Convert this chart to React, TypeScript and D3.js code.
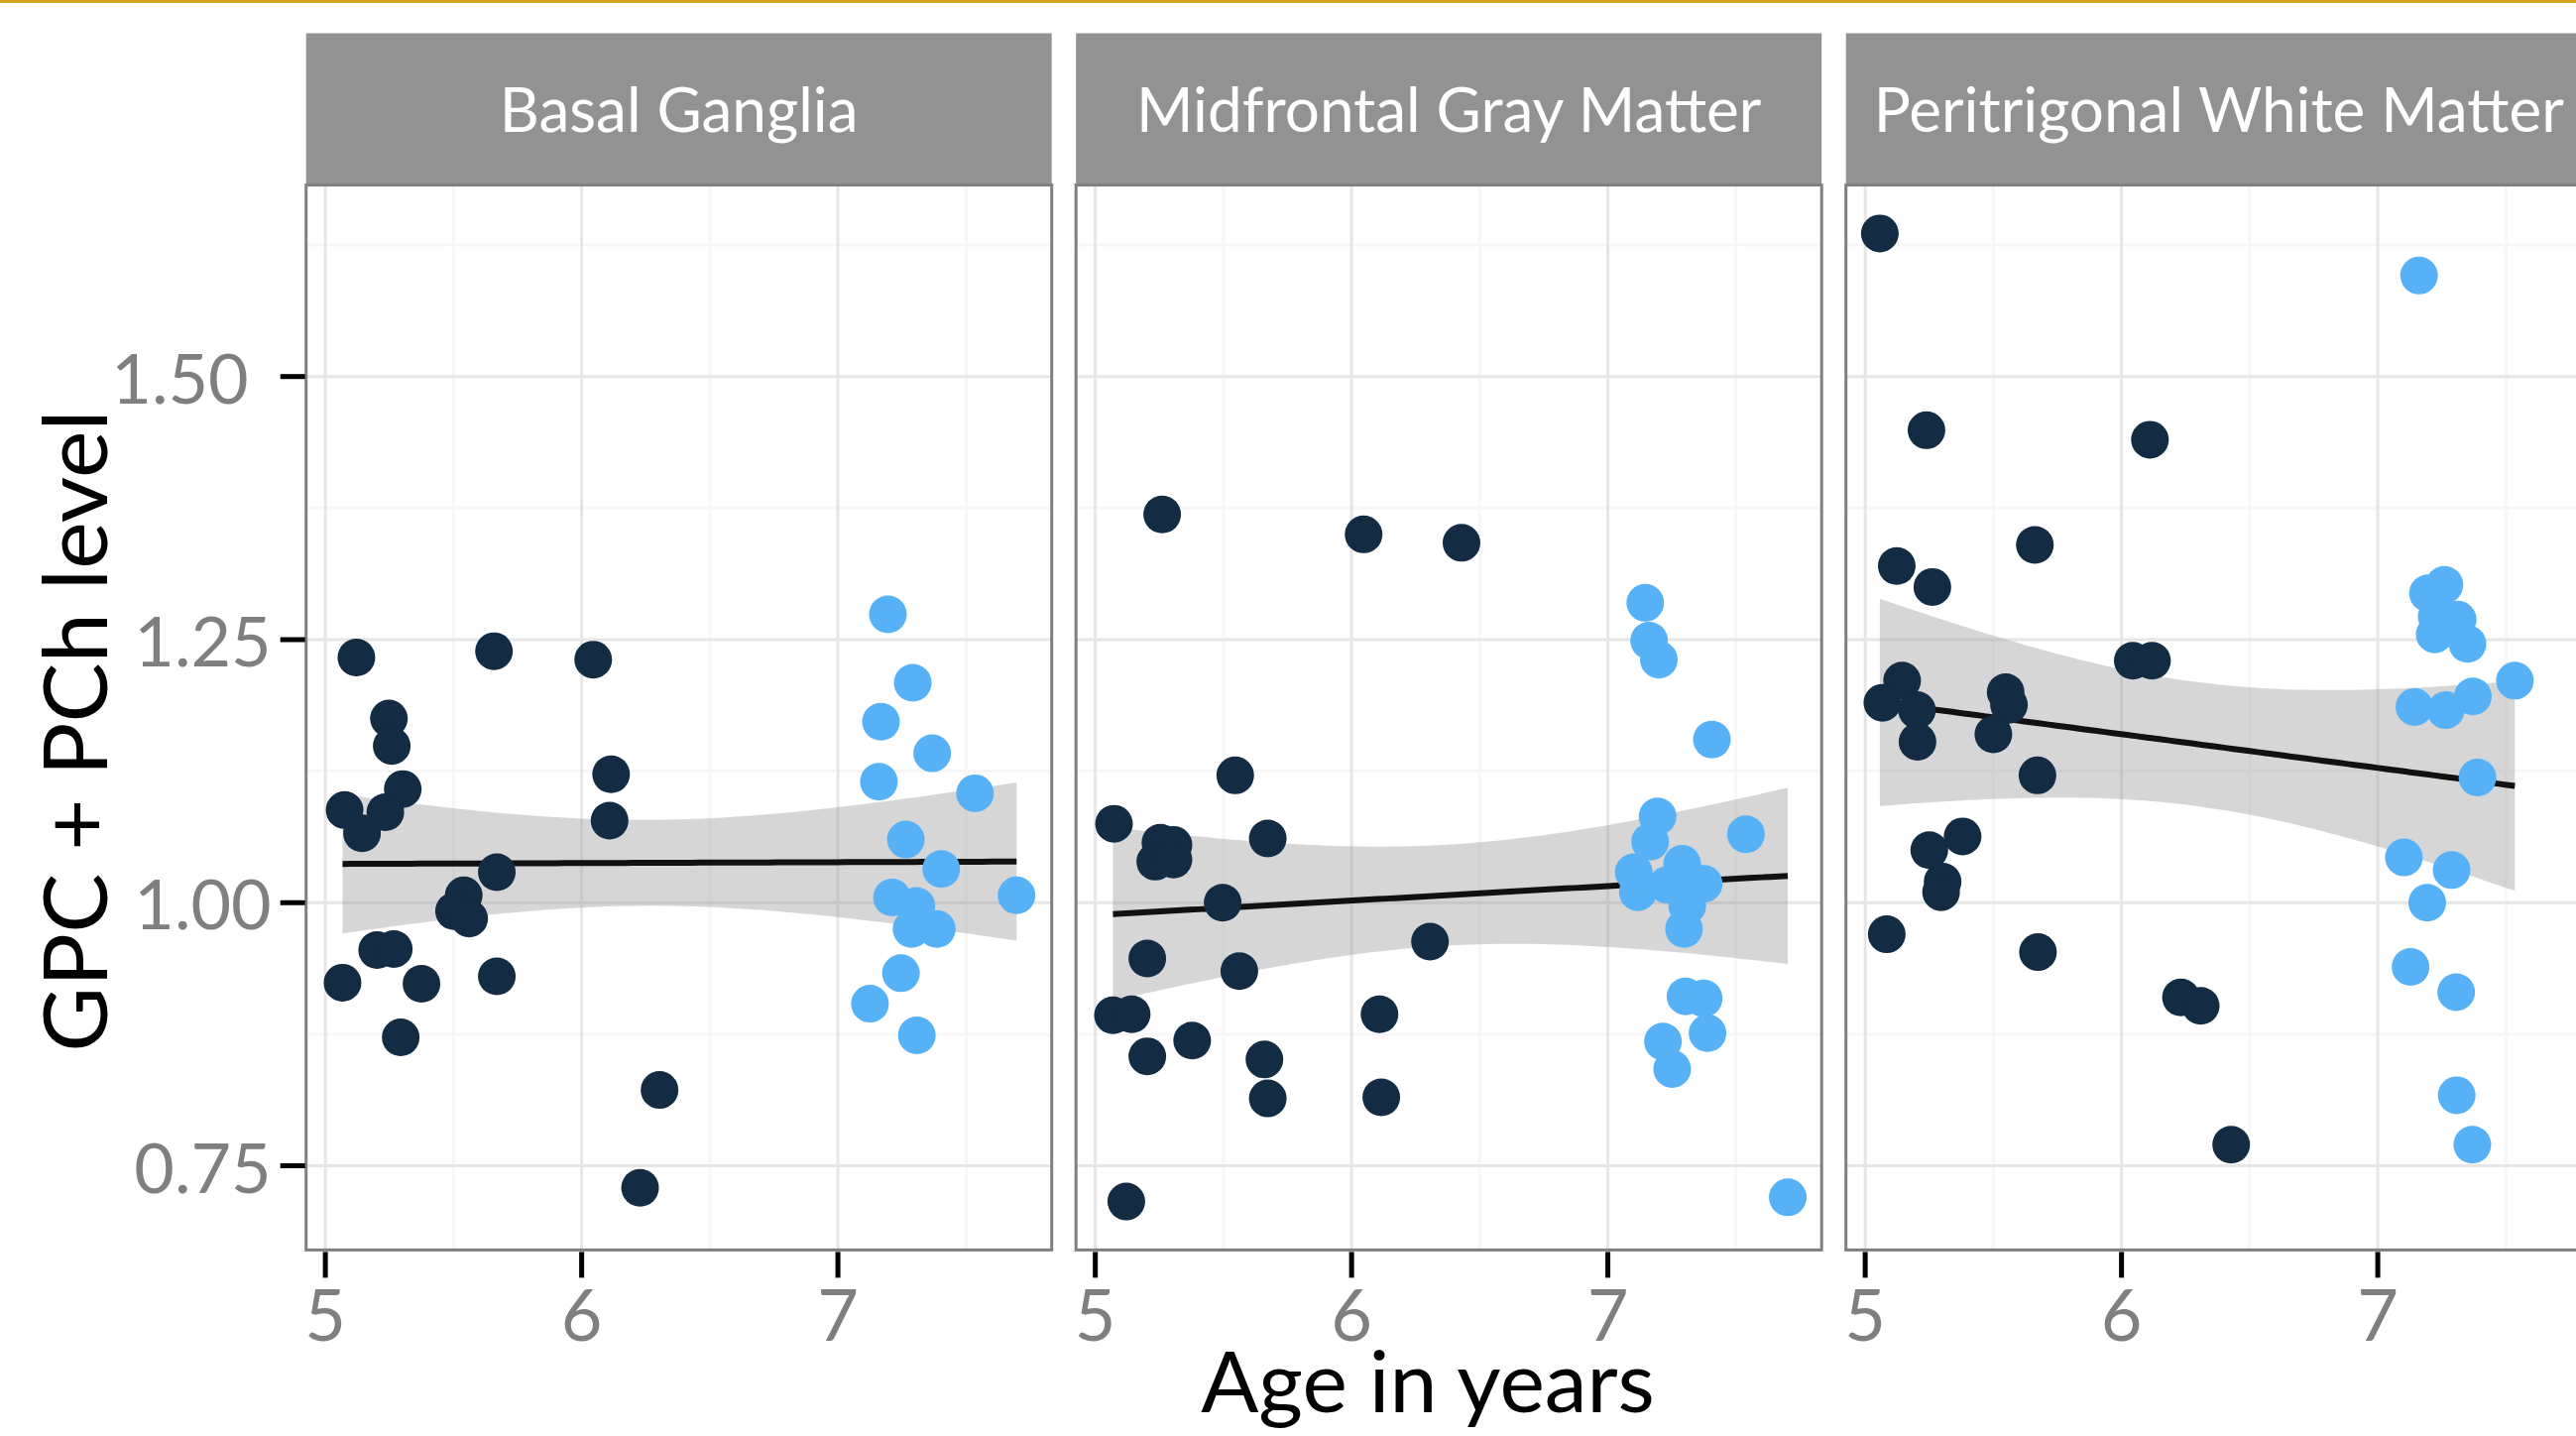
import React from 'react';
import * as d3 from 'd3';

// facet labels
const regions = ['Basal Ganglia', 'Midfrontal Gray Matter', 'Peritrigonal White Matter'];

// [age, level]; younger = dark points, older = light points
const basalYounger = [
  [5.121, 1.233], [5.658, 1.239], [6.045, 1.231], [5.248, 1.175], [5.259, 1.149], [5.302, 1.108],
  [5.075, 1.088], [5.234, 1.086], [5.143, 1.066], [6.115, 1.122], [6.109, 1.078], [5.669, 1.029],
  [5.540, 1.007], [5.502, 0.992], [5.561, 0.985], [5.202, 0.955], [5.267, 0.956], [5.067, 0.924],
  [5.375, 0.923], [5.669, 0.930], [5.294, 0.872], [6.304, 0.822], [6.228, 0.729]
];
const basalOlder = [
  [7.195, 1.274], [7.292, 1.209], [7.168, 1.172], [7.368, 1.142], [7.160, 1.115], [7.535, 1.104],
  [7.265, 1.060], [7.403, 1.032], [7.697, 1.007], [7.211, 1.005], [7.306, 0.997], [7.287, 0.975],
  [7.386, 0.975], [7.246, 0.933], [7.125, 0.904], [7.308, 0.874]
];
const midfrontalYounger = [
  [5.261, 1.369], [6.047, 1.350], [6.429, 1.342], [5.546, 1.121], [5.073, 1.075], [5.254, 1.057],
  [5.305, 1.055], [5.234, 1.039], [5.305, 1.041], [5.673, 1.061], [5.497, 1.000], [5.203, 0.947],
  [5.562, 0.935], [6.306, 0.963], [5.069, 0.893], [5.142, 0.894], [5.203, 0.854], [5.378, 0.869],
  [5.660, 0.851], [5.673, 0.814], [6.109, 0.894], [6.116, 0.815], [5.121, 0.716]
];
const midfrontalOlder = [
  [7.146, 1.285], [7.161, 1.249], [7.199, 1.231], [7.406, 1.155], [7.194, 1.082], [7.165, 1.058],
  [7.539, 1.065], [7.101, 1.029], [7.290, 1.037], [7.117, 1.010], [7.232, 1.017], [7.309, 1.024],
  [7.374, 1.018], [7.310, 0.997], [7.297, 0.975], [7.303, 0.911], [7.374, 0.909], [7.389, 0.876],
  [7.215, 0.868], [7.251, 0.842], [7.702, 0.720]
];
const peritrigonalYounger = [
  [5.057, 1.636], [5.239, 1.449], [6.111, 1.440], [5.123, 1.320], [5.262, 1.300], [5.662, 1.340],
  [6.044, 1.230], [6.119, 1.230], [5.144, 1.211], [5.067, 1.190], [5.202, 1.183], [5.204, 1.153],
  [5.548, 1.200], [5.561, 1.188], [5.500, 1.160], [5.672, 1.121], [5.250, 1.050], [5.380, 1.063],
  [5.302, 1.020], [5.296, 1.010], [5.084, 0.970], [5.674, 0.953], [6.232, 0.910], [6.309, 0.902],
  [6.428, 0.770]
];
const peritrigonalOlder = [
  [7.161, 1.596], [7.196, 1.294], [7.260, 1.302], [7.312, 1.269], [7.222, 1.255], [7.350, 1.246],
  [7.230, 1.272], [7.535, 1.211], [7.371, 1.196], [7.143, 1.186], [7.265, 1.183], [7.389, 1.119],
  [7.102, 1.043], [7.288, 1.031], [7.193, 1.000], [7.128, 0.939], [7.306, 0.915], [7.308, 0.817],
  [7.369, 0.770]
];

const younger = [basalYounger, midfrontalYounger, peritrigonalYounger];
const older = [basalOlder, midfrontalOlder, peritrigonalOlder];

const xTicks = [5, 6, 7];
const yTicks = [0.75, 1.0, 1.25, 1.5];
const xTitle = 'Age in years';
const yTitle = 'GPC + PCh level';

const font = 'Lato, "Open Sans", sans-serif';

// t quantile (0.975) for lm confidence band
function tQuantile(df) {
  const z = 1.959964;
  return z + (z ** 3 + z) / (4 * df) + (5 * z ** 5 + 16 * z ** 3 + 3 * z) / (96 * df * df);
}

function lmBand(pts) {
  const n = pts.length;
  const mx = d3.mean(pts, d => d[0]);
  const my = d3.mean(pts, d => d[1]);
  const sxx = d3.sum(pts, d => (d[0] - mx) ** 2);
  const sxy = d3.sum(pts, d => (d[0] - mx) * (d[1] - my));
  const b = sxy / sxx, a = my - b * mx;
  const s = Math.sqrt(d3.sum(pts, d => (d[1] - a - b * d[0]) ** 2) / (n - 2));
  const t = tQuantile(n - 2);
  const [lo, hi] = d3.extent(pts, d => d[0]);
  return d3.range(80).map(i => {
    const x = lo + (hi - lo) * i / 79;
    const fit = a + b * x;
    const se = s * Math.sqrt(1 / n + (x - mx) ** 2 / sxx);
    return { x, fit, lo: fit - t * se, hi: fit + t * se };
  });
}

export default function App() {
  const W = 2598, H = 1448;
  const panelLeft = 308.7, panelW = 752, gap = 24.5;
  const panelTop = 186.6, panelBottom = 1260.4, stripTop = 33.5;

  const all = younger.flat().concat(older.flat());
  const xe = d3.extent(all, d => d[0]);
  const ye = d3.extent(all, d => d[1]);
  const xPad = (xe[1] - xe[0]) * 0.05, yPad = (ye[1] - ye[0]) * 0.05;

  const x = d3.scaleLinear().domain([xe[0] - xPad, xe[1] + xPad]).range([0, panelW]);
  const y = d3.scaleLinear().domain([ye[0] - yPad, ye[1] + yPad]).range([panelBottom, panelTop]);

  const xMinor = xTicks.map(t => t - 0.5).concat([xTicks[xTicks.length - 1] + 0.5])
    .filter(t => t > x.domain()[0] && t < x.domain()[1]);
  const yMinor = yTicks.map(t => t - 0.125).concat([yTicks[yTicks.length - 1] + 0.125])
    .filter(t => t > y.domain()[0] && t < y.domain()[1]);

  const fmt = d3.format('.2f');

  const area = d3.area().x(d => x(d.x)).y0(d => y(d.lo)).y1(d => y(d.hi));
  const line = d3.line().x(d => x(d.x)).y(d => y(d.fit));

  return (
    <svg width={W} height={H} style={{ position: 'absolute', left: 0, top: 0, background: '#fff' }}>
      <rect x={0} y={0} width={W} height={H} fill="#fff" />
      <rect x={0} y={0} width={W} height={3} fill="#D9A41B" />

      {regions.map((name, i) => {
        const left = panelLeft + i * (panelW + gap);
        const band = lmBand(younger[i].concat(older[i]));
        return (
          <g key={name} transform={`translate(${left},0)`}>
            <rect x={0} y={stripTop} width={panelW} height={panelTop - stripTop} fill="#929292" />
            <text x={panelW / 2} y={133} textAnchor="middle" fill="#fff" fontFamily={font} fontSize={62}>{name}</text>

            <rect x={0} y={panelTop} width={panelW} height={panelBottom - panelTop} fill="#fff" />
            {xMinor.map(t => <line key={'xm' + t} x1={x(t)} x2={x(t)} y1={panelTop} y2={panelBottom} stroke="#f7f7f7" strokeWidth={3} />)}
            {yMinor.map(t => <line key={'ym' + t} x1={0} x2={panelW} y1={y(t)} y2={y(t)} stroke="#f7f7f7" strokeWidth={3} />)}
            {xTicks.map(t => <line key={'xg' + t} x1={x(t)} x2={x(t)} y1={panelTop} y2={panelBottom} stroke="#e6e6e6" strokeWidth={3} />)}
            {yTicks.map(t => <line key={'yg' + t} x1={0} x2={panelW} y1={y(t)} y2={y(t)} stroke="#e6e6e6" strokeWidth={3} />)}

            <path d={area(band)} fill="#999999" fillOpacity={0.4} />
            <path d={line(band)} fill="none" stroke="#111" strokeWidth={6} />

            {younger[i].map((d, j) => <circle key={'y' + j} cx={x(d[0])} cy={y(d[1])} r={19} fill="#132B43" />)}
            {older[i].map((d, j) => <circle key={'o' + j} cx={x(d[0])} cy={y(d[1])} r={19} fill="#56B1F7" />)}

            <rect x={0} y={panelTop} width={panelW} height={panelBottom - panelTop} fill="none" stroke="#7f7f7f" strokeWidth={3} />

            {xTicks.map(t => (
              <g key={'xt' + t}>
                <line x1={x(t)} x2={x(t)} y1={panelBottom + 2} y2={panelBottom + 28} stroke="#000" strokeWidth={5} />
                <text x={x(t)} y={1352} textAnchor="middle" fill="#7f7f7f" fontFamily={font} fontSize={72}>{t}</text>
              </g>
            ))}

            {i === 0 && yTicks.map(t => (
              <g key={'yt' + t}>
                <line x1={-26} x2={-1} y1={y(t)} y2={y(t)} stroke="#000" strokeWidth={5} />
                <text x={t === 1.5 ? -58 : -35} y={y(t) + 27} textAnchor="end" fill="#7f7f7f" fontFamily={font} fontSize={70}>{fmt(t)}</text>
              </g>
            ))}
          </g>
        );
      })}

      <text x={1440} y={1424} textAnchor="middle" fill="#000" fontFamily={font} fontSize={86}>{xTitle}</text>
      <text transform={`translate(108,737) rotate(-90)`} textAnchor="middle" fill="#000" fontFamily={font} fontSize={90}>{yTitle}</text>
    </svg>
  );
}
